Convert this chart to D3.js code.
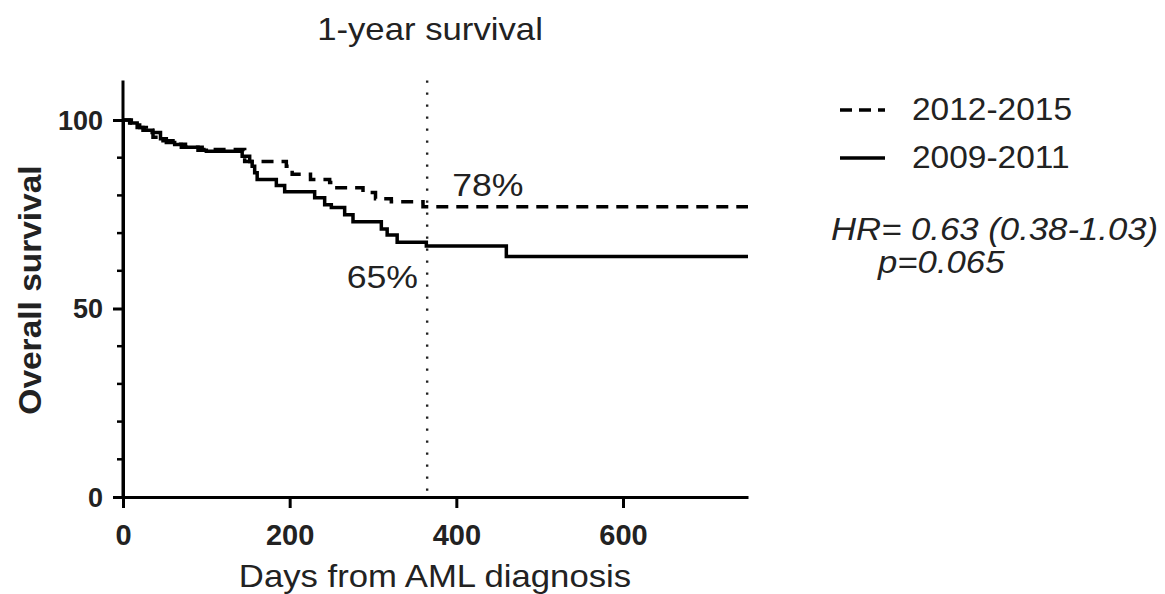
<!DOCTYPE html>
<html>
<head>
<meta charset="utf-8">
<script src="https://cdn.jsdelivr.net/npm/d3@7"></script>
<style>
  html, body { margin: 0; padding: 0; background: #fff; }
  svg { display: block; }
  text { font-family: "Liberation Sans", Arial, sans-serif; fill: #222; }
</style>
</head>
<body>
<svg id="chart" width="1165" height="594"></svg>
<script>
// ---- data ----
const seriesNames = ["2012-2015", "2009-2011"];
const days2012 = [0, 10, 20, 28, 36, 48, 60, 75, 95, 146, 196, 203, 225, 248, 252, 288, 303, 322, 360, 750];
const surv2012 = [100, 99.2, 98, 97.3, 95.4, 94.5, 93.6, 92.8, 92.2, 89, 87.7, 85.6, 84.2, 83.4, 82, 80.8, 79.1, 78.3, 77, 77];
const days2009 = [0, 8, 17, 24, 35, 45, 52, 62, 70, 90, 100, 143, 152, 155, 158, 161, 184, 194, 230, 242, 250, 266, 276, 310, 317, 329, 364, 460, 750];
const surv2009 = [100, 99.2, 98, 97.3, 96.7, 95, 94, 93.5, 92.8, 92, 91.7, 90.4, 89, 87.7, 86, 84.2, 82.6, 81, 79.4, 77.5, 76.8, 74.9, 73, 71.1, 69.5, 67.6, 66.6, 63.8, 63.8];
const xTicks = [0, 200, 400, 600];
const yTicks = [0, 50, 100];
const yMinorTicks = [10, 20, 30, 40, 60, 70, 80, 90];
const landmarkDay = 365;
const annotations = [{ text: "78%", day: 395, value: 79.8, anchor: "start" }, { text: "65%", day: 354, value: 55.4, anchor: "end" }];
const statsLines = ["HR= 0.63 (0.38-1.03)", "p=0.065"];
const titleText = "1-year survival";
const xTitle = "Days from AML diagnosis";
const yTitle = "Overall survival";

// ---- layout ----
const svg = d3.select("#chart");
const x = d3.scaleLinear().domain([0, 750]).range([123, 748]);
const y = d3.scaleLinear().domain([0, 100]).range([497, 120]);
const yTop = 110.5;
const STRETCH = 1.12;

function label(px, py, str, opts = {}) {
  const rot = opts.rotate ? ` rotate(${opts.rotate})` : "";
  const t = svg.append("text")
    .attr("transform", `translate(${px},${py})${rot} scale(${opts.stretch || STRETCH},1)`)
    .attr("text-anchor", opts.anchor || "start")
    .attr("font-size", opts.size || 31)
    .text(str);
  if (opts.bold) t.attr("font-weight", "bold");
  if (opts.italic) t.attr("font-style", "italic");
  return t;
}

const line = d3.line().x(d => x(d[0])).y(d => y(d[1])).curve(d3.curveStepAfter);
const data2012 = days2012.map((d, i) => [d, surv2012[i]]);
const data2009 = days2009.map((d, i) => [d, surv2009[i]]);

// landmark dotted line
svg.append("line")
  .attr("x1", x(landmarkDay)).attr("x2", x(landmarkDay))
  .attr("y1", y(yTop)).attr("y2", y(0))
  .attr("stroke", "#222").attr("stroke-width", 2.4)
  .attr("stroke-dasharray", "2.4,9.6");

// curves
svg.append("path").datum(data2009).attr("d", line)
  .attr("fill", "none").attr("stroke", "#000").attr("stroke-width", 3.5);
svg.append("path").datum(data2012).attr("d", line)
  .attr("fill", "none").attr("stroke", "#000").attr("stroke-width", 3.5)
  .attr("stroke-dasharray", "12,8");

// axes
const xAxis = svg.append("g").attr("transform", `translate(0,${y(0)})`)
  .call(d3.axisBottom(x).tickValues(xTicks).tickSize(11).tickSizeOuter(0));
const yAxis = svg.append("g").attr("transform", `translate(${x(0)},0)`)
  .call(d3.axisLeft(y).tickValues(yTicks).tickSize(10).tickSizeOuter(0).tickPadding(10));
yAxis.append("g").selectAll("line").data(yMinorTicks).join("line")
  .attr("x1", -6).attr("x2", 0).attr("y1", d => y(d)).attr("y2", d => y(d))
  .attr("stroke", "#000").attr("stroke-width", 2.5);
yAxis.append("line").attr("x1", 0).attr("x2", 0).attr("y1", y(0)).attr("y2", y(yTop))
  .attr("stroke", "#000").attr("stroke-width", 3);
[xAxis, yAxis].forEach(g => {
  g.select(".domain").attr("stroke", "#000").attr("stroke-width", 3);
  g.selectAll(".tick line").attr("stroke", "#000").attr("stroke-width", 3);
  g.selectAll(".tick text").attr("font-weight", "bold")
    .attr("font-family", "Liberation Sans, Arial, sans-serif").attr("fill", "#222");
});
xAxis.selectAll(".tick text").attr("font-size", 29).attr("y", 48).attr("dy", 0);
yAxis.selectAll(".tick text").attr("font-size", 27).attr("dy", "0.35em");

// titles
label(430, 40, titleText, { anchor: "middle" });
label(435, 587, xTitle, { anchor: "middle" });
label(41, 290, yTitle, { anchor: "middle", bold: true, rotate: -90, stretch: 1.08 });

// annotations
annotations.forEach(a => label(x(a.day), y(a.value), a.text, { anchor: a.anchor, stretch: 1.15 }));

// legend
const legendRows = [{ name: seriesNames[0], dash: "12,7", y: 110 }, { name: seriesNames[1], dash: null, y: 158 }];
legendRows.forEach(r => {
  svg.append("line").attr("x1", 840).attr("x2", 885).attr("y1", r.y).attr("y2", r.y)
    .attr("stroke", "#000").attr("stroke-width", 3.5)
    .attr("stroke-dasharray", r.dash);
  label(912, r.y + 10, r.name, { stretch: 1.08 });
});
label(831, 240, statsLines[0], { italic: true, stretch: 1.12 });
label(878, 273, statsLines[1], { italic: true, stretch: 1.12 });
</script>
</body>
</html>
